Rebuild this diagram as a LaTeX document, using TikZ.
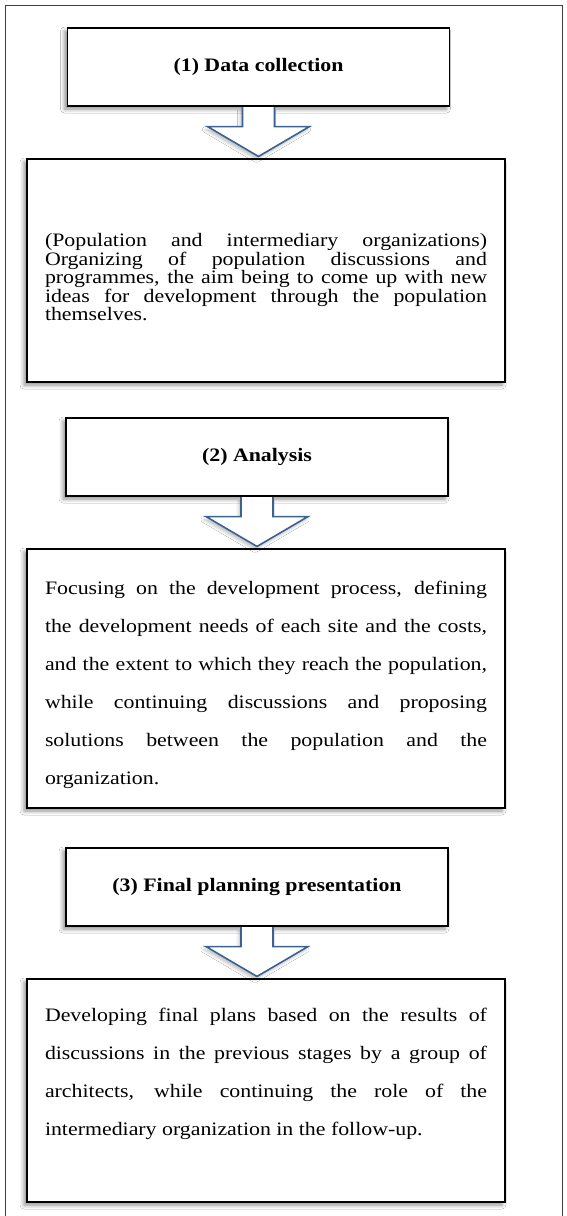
\documentclass[tikz,border=0pt]{standalone}
\usepackage{fontspec}
\setmainfont{Liberation Serif}[FakeStretch=1.15]
\usetikzlibrary{calc,shadows.blur}

\definecolor{arrowblue}{RGB}{59,98,145}

% hollow block arrow from a stage title down to its text box
\newcommand{\stagearrow}[2]{%
  \draw[blockarrow] ($(#1.south)+(-16,0.6)$) -- ++(0,19.4) -- ++(-35,0)
    -- ($(#1.south |- #2.north)+(0,-2)$) -- ($(#1.south)+(51,20)$) -- ++(-35,0)
    -- ($(#1.south)+(16,0.6)$);}
% invisible strut to push a paragraph down a little
\newcommand{\topstrut}{\rule{0pt}{27pt}}

\begin{document}
\begin{tikzpicture}[x=1pt,y=-1pt,
    boxshadow/.style={blur shadow={shadow xshift=-3pt,shadow yshift=-3pt,
        shadow blur radius=4pt,shadow opacity=45}},
    header/.style={draw,line width=1.1pt,fill=white,boxshadow,
        minimum width=382pt,minimum height=78pt,
        font=\bfseries\fontsize{19}{23}\selectfont},
    textbox/.style={draw,line width=1.1pt,fill=white,boxshadow,
        text width=442pt,inner xsep=18pt,inner ysep=0pt,align=justify,
        minimum height=#1,
        execute at begin node={\tolerance=10000\hbadness=10000\hfuzz=3pt}},
    tight/.style={font=\fontsize{19}{18.5}\selectfont},
    loose/.style={font=\fontsize{19}{38}\selectfont},
    blockarrow/.style={draw=arrowblue,line width=1.6pt,fill=white,
        line join=miter,
        blur shadow={shadow xshift=-2pt,shadow yshift=-3pt,
          shadow blur radius=3pt,shadow opacity=25}}]
  \useasboundingbox (0,0) rectangle (567,1216);
  \fill[white] (0,0) rectangle (567,1216);
  \draw[black!75,line width=0.9pt] (5.5,1230) -- (5.5,5.5) -- (562.5,5.5) -- (562.5,1230);

  % stage 1
  \node[header] (data) at (258.5,67) {(1) Data collection};
  \node[textbox=223pt,tight] (collect) at (266,270.5)
    {\topstrut(Population and intermediary organizations)\linebreak
     Organizing of population discussions and\linebreak
     programmes, the aim being to come up with new\linebreak
     ideas for development through the population\linebreak
     themselves.};

  % stage 2
  \node[header] (analysis) at (257,457) {(2) Analysis};
  \node[textbox=259pt,loose] (needs) at (266,678.5)
    {\topstrut Focusing on the development process, defining\linebreak
     the development needs of each site and the costs,\linebreak
     and the extent to which they reach the population,\linebreak
     while continuing discussions and proposing\linebreak
     solutions between the population and the\linebreak
     organization.};

  % stage 3
  \node[header] (final) at (257,887) {(3) Final planning presentation};
  \node[textbox=223pt,loose] (plans) at (266,1090.5)
    {Developing final plans based on the results of\linebreak
     discussions in the previous stages by a group of\linebreak
     architects, while continuing the role of the\linebreak
     intermediary organization in the follow-up.\par\mbox{}};

  \stagearrow{data}{collect}
  \stagearrow{analysis}{needs}
  \stagearrow{final}{plans}
\end{tikzpicture}
\end{document}
